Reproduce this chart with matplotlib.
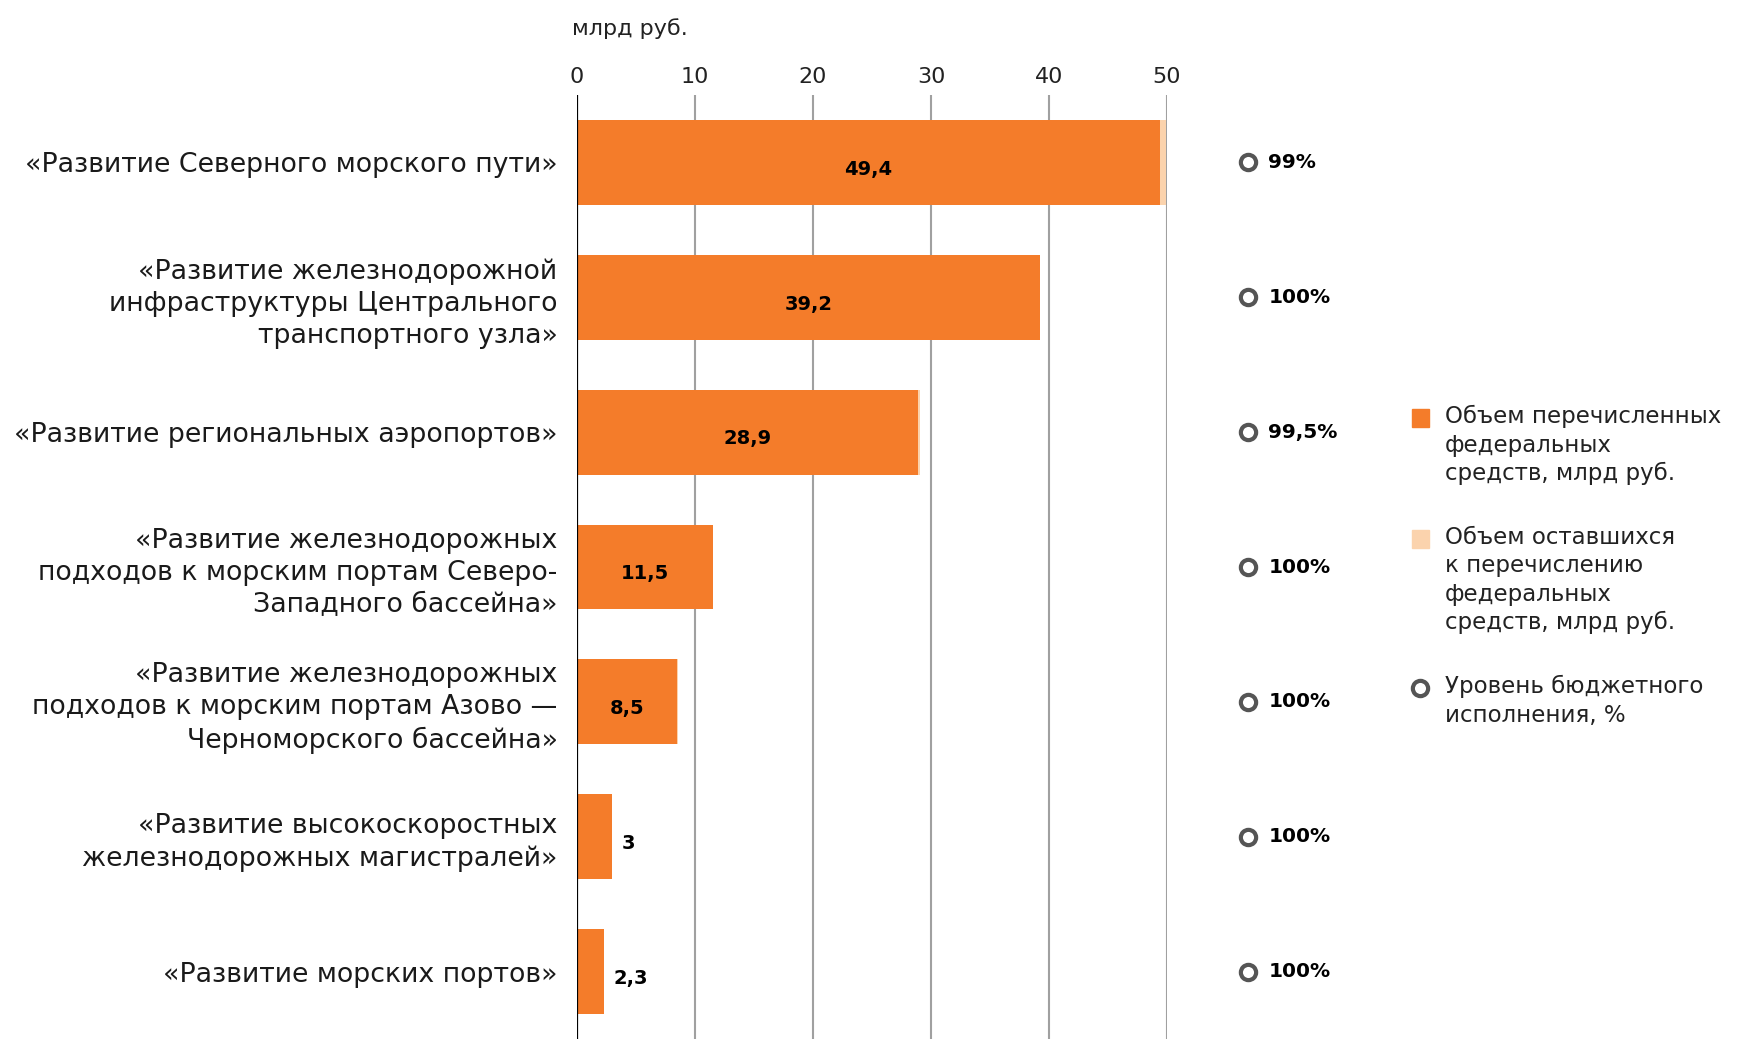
import numpy as np
import matplotlib.pyplot as plt
from matplotlib.patches import Rectangle
from matplotlib.lines import Line2D

plt.rcParams['font.family'] = ['DejaVu Sans']

# данные
categories = [
    "«Развитие Северного морского пути»",
    "«Развитие железнодорожной\nинфраструктуры Центрального\nтранспортного узла»",
    "«Развитие региональных аэропортов»",
    "«Развитие железнодорожных\nподходов к морским портам Северо-\nЗападного бассейна»",
    "«Развитие железнодорожных\nподходов к морским портам Азово —\nЧерноморского бассейна»",
    "«Развитие высокоскоростных\nжелезнодорожных магистралей»",
    "«Развитие морских портов»",
]
transferred = [49.4, 39.2, 28.9, 11.5, 8.5, 3.0, 2.3]
remaining = [0.5, 0.0, 0.15, 0.0, 0.05, 0.0, 0.0]
value_labels = ["49,4", "39,2", "28,9", "11,5", "8,5", "3", "2,3"]
execution = ["99%", "100%", "99,5%", "100%", "100%", "100%", "100%"]
xticks = [0, 10, 20, 30, 40, 50]

orange = '#f47c2a'
light = '#fbd3ad'
grid_c = '#a0a0a0'
ring_c = '#555555'

fig = plt.figure(figsize=(17.56, 10.64), dpi=100)
ax = fig.add_axes([577/1756, 1 - 1039/1064, 590/1756, 944/1064])

y = np.arange(len(categories))
ax.barh(y, transferred, height=0.63, color=orange, zorder=3)
ax.barh(y, remaining, left=transferred, height=0.63, color=light, zorder=3)

ax.set_xlim(0, 50)
ax.set_ylim(len(categories) - 0.5, -0.5)

# сетка
for t in xticks[1:]:
    ax.axvline(t, color=grid_c, lw=1.5, zorder=1)
ax.axvline(0, color='black', lw=1.6, zorder=4)
for s in ax.spines.values():
    s.set_visible(False)

ax.xaxis.tick_top()
ax.set_xticks(xticks)
ax.set_xticklabels([str(t) for t in xticks], fontsize=16, color='#222222')
ax.tick_params(axis='x', length=0, pad=6)
ax.set_yticks(y)
ax.set_yticklabels(categories, fontsize=19.3, color='#1a1a1a', linespacing=1.3)
ax.tick_params(axis='y', length=0, pad=14)

ax.text(-0.008, 1.059, "млрд руб.", transform=ax.transAxes, fontsize=16,
        color='#222222', ha='left', va='bottom')

# подписи значений
for yi, v, lab in zip(y, transferred, value_labels):
    if v > 5:
        ax.text(v / 2, yi + 0.05, lab, ha='center', va='center', fontsize=14,
                fontweight='bold', color='black', zorder=5)
    else:
        ax.text(v + 0.8, yi + 0.05, lab, ha='left', va='center', fontsize=14,
                fontweight='bold', color='black', zorder=5)

# уровень исполнения
tr = ax.get_yaxis_transform()
for yi, p in zip(y, execution):
    ax.plot(1.137, yi, marker='o', ms=11, mfc='white', mec=ring_c, mew=3,
            transform=tr, clip_on=False)
    ax.text(1.172, yi, p, transform=tr, ha='left', va='center', fontsize=14.5,
            fontweight='bold', color='black', clip_on=False)

# легенда
lx_sq = 1420 / 1756
lx_tx = 1445 / 1756
fig.add_artist(Rectangle((lx_sq - 0.0045, 1 - 427/1064), 0.0095, 0.0165,
                         transform=fig.transFigure, color=orange))
fig.text(lx_tx, 1 - 405/1064, "Объем перечисленных\nфедеральных\nсредств, млрд руб.",
         fontsize=16.5, va='top', ha='left', color='#222222', linespacing=1.3)
fig.add_artist(Rectangle((lx_sq - 0.0045, 1 - 548/1064), 0.0095, 0.0165,
                         transform=fig.transFigure, color=light))
fig.text(lx_tx, 1 - 526/1064,
         "Объем оставшихся\nк перечислению\nфедеральных\nсредств, млрд руб.",
         fontsize=16.5, va='top', ha='left', color='#222222', linespacing=1.3)
fig.add_artist(Line2D([lx_sq], [1 - 688/1064], marker='o', ms=11, mfc='white',
                      mec=ring_c, mew=3, transform=fig.transFigure))
fig.text(lx_tx, 1 - 675/1064, "Уровень бюджетного\nисполнения, %",
         fontsize=16.5, va='top', ha='left', color='#222222', linespacing=1.3)

fig.savefig('out.png', dpi=100, facecolor='white')
